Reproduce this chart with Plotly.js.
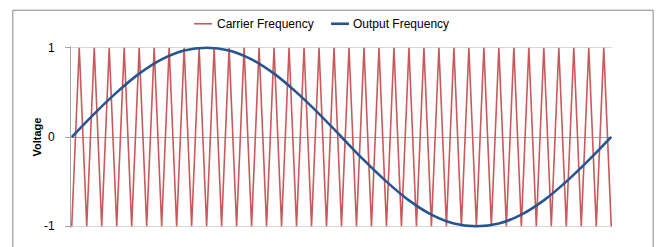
<!DOCTYPE html>
<html>
<head>
<meta charset="utf-8">
<script src="https://cdn.plot.ly/plotly-3.0.1.min.js"></script>
<style>
html,body{margin:0;padding:0;background:#fff;}
#chart{width:663px;height:247px;}
</style>
</head>
<body>
<div id="chart"></div>
<script>
// Carrier (triangle) wave: one value per category point, 73 points (36 cycles)
const carrierX = [];
for (let i = 0; i <= 72; i++) carrierX.push(i);
const carrierY = [
  -1, 1, -1, 1, -1, 1, -1, 1, -1, 1, -1, 1, -1, 1, -1, 1, -1, 1, -1, 1,
  -1, 1, -1, 1, -1, 1, -1, 1, -1, 1, -1, 1, -1, 1, -1, 1, -1, 1, -1, 1,
  -1, 1, -1, 1, -1, 1, -1, 1, -1, 1, -1, 1, -1, 1, -1, 1, -1, 1, -1, 1,
  -1, 1, -1, 1, -1, 1, -1, 1, -1, 1, -1, 1, -1
];
// Output (sine) wave, read every 3 category points
const outputX = [0, 3, 6, 9, 12, 15, 18, 21, 24, 27, 30, 33, 36, 39, 42, 45, 48, 51, 54, 57, 60, 63, 66, 69, 72];
const outputY = [0, 0.26, 0.5, 0.71, 0.87, 0.97, 1, 0.97, 0.87, 0.71, 0.5, 0.26, 0,
  -0.26, -0.5, -0.71, -0.87, -0.97, -1, -0.97, -0.87, -0.71, -0.5, -0.26, 0];
const yTicks = [-1, 0, 1];
const yTickText = ['-1', '0', '1'];
const seriesNames = ['Carrier Frequency', 'Output Frequency'];
const seriesColors = ['#c9595a', '#28558f'];
const seriesWidths = [1.6, 2.6];

const traces = [
  {x: carrierX, y: carrierY, type: 'scatter', mode: 'lines', name: seriesNames[0],
   line: {color: seriesColors[0], width: seriesWidths[0]}},
  {x: outputX, y: outputY, type: 'scatter', mode: 'lines', name: seriesNames[1],
   line: {color: seriesColors[1], width: seriesWidths[1], shape: 'spline'}}
];

const W = 663, H = 247;
const ml = 70.7, mr = 50.7, mt = 46.2, mb = 19.2;
const pw = W - ml - mr, ph = H - mt - mb;
function px(x){ return (x - ml) / pw; }
function py(y){ return (H - mb - y) / ph; }

// custom legend placement (pixels)
const legLineX = [[194, 212], [331, 349]];
const legTextX = [215, 351];
const legY = 24;

const shapes = [
  {type: 'rect', xref: 'paper', yref: 'paper', x0: px(12.5), x1: px(653.5), y0: py(260), y1: py(10.5),
   line: {color: '#868686', width: 1}, fillcolor: 'rgba(0,0,0,0)', layer: 'below'}
];
const annotations = [];
for (let i = 0; i < 2; i++) {
  shapes.push({type: 'line', xref: 'paper', yref: 'paper',
    x0: px(legLineX[i][0]), x1: px(legLineX[i][1]), y0: py(legY), y1: py(legY),
    line: {color: seriesColors[i], width: seriesWidths[i]}});
  annotations.push({xref: 'paper', yref: 'paper', x: px(legTextX[i]), y: py(legY),
    xanchor: 'left', yanchor: 'middle', showarrow: false, text: seriesNames[i],
    font: {size: 12, color: '#000'}});
}

const layout = {
  width: W, height: H,
  margin: {l: ml, r: mr, t: mt, b: mb, pad: 0},
  paper_bgcolor: '#ffffff', plot_bgcolor: '#ffffff',
  font: {family: 'Liberation Sans, Arial, sans-serif', size: 11, color: '#000'},
  showlegend: false,
  xaxis: {range: [-0.1, 72.1], showgrid: false, zeroline: false, showticklabels: false,
          showline: false, ticks: '', fixedrange: true},
  yaxis: {range: [-1.02, 1.02], tickvals: yTicks, ticktext: yTickText,
          showgrid: true, gridcolor: '#d9d9d9', gridwidth: 1,
          zeroline: true, zerolinecolor: '#a6a6a6', zerolinewidth: 1,
          showline: true, linecolor: '#a6a6a6', linewidth: 1,
          ticks: 'outside', ticklen: 5, tickcolor: '#a6a6a6',
          ticklabelstandoff: 8,
          tickfont: {size: 12, color: '#000'},
          title: {text: '<b>Voltage</b>', font: {size: 11, color: '#000'}, standoff: 0}},
  shapes: shapes,
  annotations: annotations
};

Plotly.newPlot('chart', traces, layout, {staticPlot: true, displayModeBar: false});
</script>
</body>
</html>
